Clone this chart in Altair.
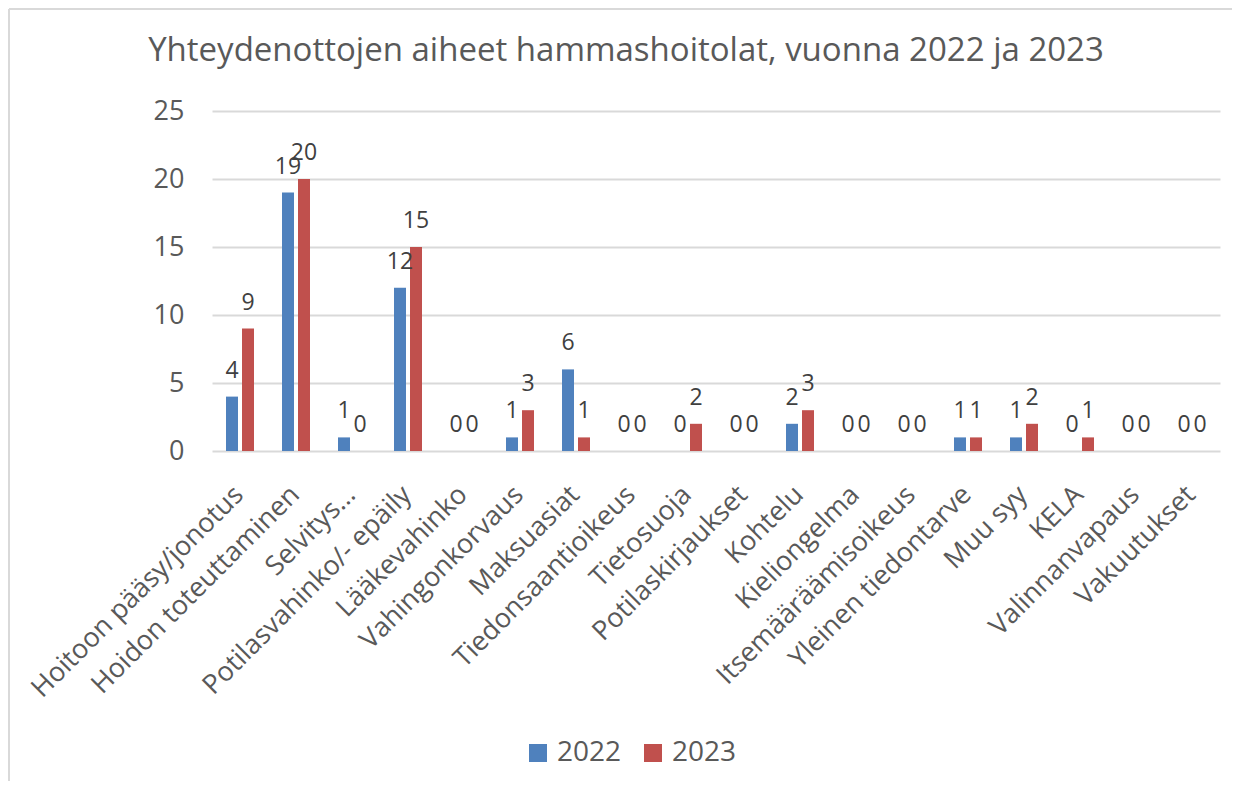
import altair as alt
import pandas as pd

categories = [
    "Hoitoon pääsy/jonotus", "Hoidon toteuttaminen", "Selvitys…",
    "Potilasvahinko/- epäily", "Lääkevahinko", "Vahingonkorvaus", "Maksuasiat",
    "Tiedonsaantioikeus", "Tietosuoja", "Potilaskirjaukset", "Kohtelu",
    "Kieliongelma", "Itsemääräämisoikeus", "Yleinen tiedontarve", "Muu syy",
    "KELA", "Valinnanvapaus", "Vakuutukset",
]
values_2022 = [4, 19, 1, 12, 0, 1, 6, 0, 0, 0, 2, 0, 0, 1, 1, 0, 0, 0]
values_2023 = [9, 20, 0, 15, 0, 3, 1, 0, 2, 0, 3, 0, 0, 1, 2, 1, 0, 0]
years = ["2022", "2023"]
y_ticks = [0, 5, 10, 15, 20, 25]
title_text = "Yhteydenottojen aiheet hammashoitolat, vuonna 2022 ja 2023"

rows = []
for c, v in zip(categories, values_2022):
    rows.append({"aihe": c, "vuosi": "2022", "arvo": v})
for c, v in zip(categories, values_2023):
    rows.append({"aihe": c, "vuosi": "2023", "arvo": v})
df = pd.DataFrame(rows)

FONT = "Open Sans"
TXT = "#595959"

x_enc = alt.X(
    "aihe:N", sort=categories, title=None,
    scale=alt.Scale(paddingInner=0.5, paddingOuter=0.25),
    axis=alt.Axis(labelAngle=-45, labelFontSize=27, labelColor=TXT,
                  labelFont=FONT, ticks=False, domain=False, labelPadding=30,
                  labelOffset=-10, labelLimit=0),
)
xoff = alt.XOffset("vuosi:N", scale=alt.Scale(paddingInner=0.25, paddingOuter=0))
y_enc = alt.Y(
    "arvo:Q", title=None,
    scale=alt.Scale(domain=[0, 25], nice=False),
    axis=alt.Axis(values=y_ticks, labelFontSize=27, labelColor=TXT, labelFont=FONT,
                  ticks=False, domain=False, gridColor="#D9D9D9", gridWidth=2,
                  labelPadding=28),
)
color_enc = alt.Color(
    "vuosi:N", title=None,
    scale=alt.Scale(domain=years, range=["#4F81BD", "#C0504D"]),
    legend=alt.Legend(orient="none", legendX=312, legendY=628, direction="horizontal",
                      symbolType="square", symbolSize=324, symbolStrokeWidth=0,
                      labelFontSize=28, labelColor=TXT, labelFont=FONT,
                      columnPadding=17, labelOffset=5, padding=0),
)

base = alt.Chart(df)
bars = base.mark_bar().encode(x=x_enc, xOffset=xoff, y=y_enc, color=color_enc)
labels = base.mark_text(baseline="alphabetic", dy=-19, fontSize=23, font=FONT,
                        color="#404040").encode(
    x=alt.X("aihe:N", sort=categories), xOffset=xoff, y="arvo:Q",
    text="arvo:Q",
)
border_top = base.mark_rule(color="#D9D9D9", strokeWidth=2).encode(
    x=alt.value(-203), x2=alt.value(1100), y=alt.value(-102))
border_left = base.mark_rule(color="#D9D9D9", strokeWidth=2).encode(
    x=alt.value(-203), y=alt.value(-102), y2=alt.value(700))

chart = alt.layer(bars, labels, border_top, border_left).properties(
    width=1008, height=340,
    title=alt.TitleParams(title_text, fontSize=33, font=FONT, color=TXT,
                          fontWeight="normal", anchor="middle", dx=-90,
                          baseline="alphabetic", offset=0, dy=86),
    autosize=alt.AutoSizeParams(type="none"),
    padding={"left": 204, "top": 103, "right": 12, "bottom": 330},
).configure_view(stroke=None)

chart.save("out.html", embed_options={"renderer": "svg", "actions": False})
